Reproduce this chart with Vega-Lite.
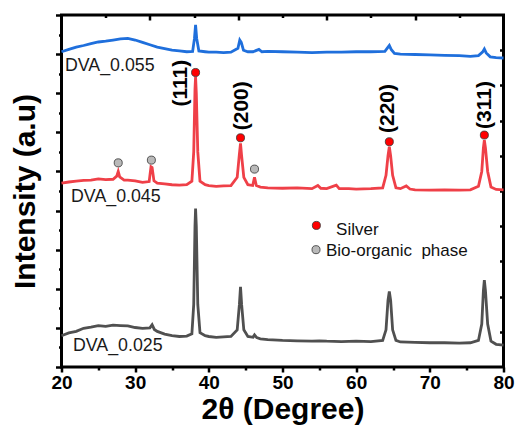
{
  "$schema": "https://vega.github.io/schema/vega-lite/v6.json",
  "width": 442,
  "height": 352,
  "autosize": "none",
  "padding": {"left": 61.5, "top": 15, "right": 12.5, "bottom": 60},
  "background": "white",
  "config": {
    "font": "Liberation Sans",
    "view": {"stroke": "black", "strokeWidth": 3},
    "axis": {"grid": false, "domain": false, "tickColor": "black", "tickWidth": 2.5, "labelColor": "black", "titleColor": "black"}
  },
  "datasets": {
    "xrd": [
      {"sample":"DVA_0.025","angle":20,"intensity":0.80},{"sample":"DVA_0.025","angle":21,"intensity":0.87},{"sample":"DVA_0.025","angle":22,"intensity":0.91},{"sample":"DVA_0.025","angle":23,"intensity":0.99},{"sample":"DVA_0.025","angle":24,"intensity":1.02},{"sample":"DVA_0.025","angle":25,"intensity":1.06},{"sample":"DVA_0.025","angle":26,"intensity":1.04},{"sample":"DVA_0.025","angle":27,"intensity":1.07},{"sample":"DVA_0.025","angle":28,"intensity":1.06},{"sample":"DVA_0.025","angle":29,"intensity":1.05},{"sample":"DVA_0.025","angle":30,"intensity":1.01},{"sample":"DVA_0.025","angle":31,"intensity":0.99},{"sample":"DVA_0.025","angle":32,"intensity":1.00},{"sample":"DVA_0.025","angle":32.3,"intensity":1.08},{"sample":"DVA_0.025","angle":32.6,"intensity":0.96},{"sample":"DVA_0.025","angle":33,"intensity":0.91},{"sample":"DVA_0.025","angle":34,"intensity":0.84},{"sample":"DVA_0.025","angle":35,"intensity":0.80},{"sample":"DVA_0.025","angle":36,"intensity":0.78},{"sample":"DVA_0.025","angle":37,"intensity":0.79},{"sample":"DVA_0.025","angle":37.7,"intensity":0.85},{"sample":"DVA_0.025","angle":37.95,"intensity":1.6},{"sample":"DVA_0.025","angle":38.12,"intensity":3.6},{"sample":"DVA_0.025","angle":38.2,"intensity":4.05},{"sample":"DVA_0.025","angle":38.3,"intensity":3.6},{"sample":"DVA_0.025","angle":38.5,"intensity":1.6},{"sample":"DVA_0.025","angle":38.8,"intensity":0.88},{"sample":"DVA_0.025","angle":39.5,"intensity":0.80},{"sample":"DVA_0.025","angle":40,"intensity":0.78},{"sample":"DVA_0.025","angle":41,"intensity":0.76},{"sample":"DVA_0.025","angle":42,"intensity":0.77},{"sample":"DVA_0.025","angle":43,"intensity":0.78},{"sample":"DVA_0.025","angle":43.85,"intensity":0.95},{"sample":"DVA_0.025","angle":44.15,"intensity":1.6},{"sample":"DVA_0.025","angle":44.3,"intensity":2.05},{"sample":"DVA_0.025","angle":44.45,"intensity":1.6},{"sample":"DVA_0.025","angle":44.75,"intensity":0.95},{"sample":"DVA_0.025","angle":45.3,"intensity":0.78},{"sample":"DVA_0.025","angle":46,"intensity":0.76},{"sample":"DVA_0.025","angle":46.2,"intensity":0.82},{"sample":"DVA_0.025","angle":46.5,"intensity":0.75},{"sample":"DVA_0.025","angle":47,"intensity":0.72},{"sample":"DVA_0.025","angle":48,"intensity":0.70},{"sample":"DVA_0.025","angle":50,"intensity":0.68},{"sample":"DVA_0.025","angle":52,"intensity":0.67},{"sample":"DVA_0.025","angle":54,"intensity":0.66},{"sample":"DVA_0.025","angle":55,"intensity":0.67},{"sample":"DVA_0.025","angle":56,"intensity":0.66},{"sample":"DVA_0.025","angle":58,"intensity":0.65},{"sample":"DVA_0.025","angle":60,"intensity":0.66},{"sample":"DVA_0.025","angle":62,"intensity":0.65},{"sample":"DVA_0.025","angle":63.6,"intensity":0.68},{"sample":"DVA_0.025","angle":64.05,"intensity":0.95},{"sample":"DVA_0.025","angle":64.32,"intensity":1.7},{"sample":"DVA_0.025","angle":64.5,"intensity":1.93},{"sample":"DVA_0.025","angle":64.68,"intensity":1.7},{"sample":"DVA_0.025","angle":64.95,"intensity":0.95},{"sample":"DVA_0.025","angle":65.4,"intensity":0.68},{"sample":"DVA_0.025","angle":66,"intensity":0.64},{"sample":"DVA_0.025","angle":68,"intensity":0.63},{"sample":"DVA_0.025","angle":70,"intensity":0.62},{"sample":"DVA_0.025","angle":72,"intensity":0.62},{"sample":"DVA_0.025","angle":74,"intensity":0.61},{"sample":"DVA_0.025","angle":75.5,"intensity":0.62},{"sample":"DVA_0.025","angle":76.6,"intensity":0.68},{"sample":"DVA_0.025","angle":77.05,"intensity":1.1},{"sample":"DVA_0.025","angle":77.27,"intensity":1.95},{"sample":"DVA_0.025","angle":77.4,"intensity":2.22},{"sample":"DVA_0.025","angle":77.55,"intensity":1.95},{"sample":"DVA_0.025","angle":77.85,"intensity":1.1},{"sample":"DVA_0.025","angle":78.3,"intensity":0.66},{"sample":"DVA_0.025","angle":79,"intensity":0.58},{"sample":"DVA_0.025","angle":80,"intensity":0.56},

      {"sample":"DVA_0.045","angle":20,"intensity":4.70},{"sample":"DVA_0.045","angle":21,"intensity":4.73},{"sample":"DVA_0.045","angle":22,"intensity":4.75},{"sample":"DVA_0.045","angle":23,"intensity":4.77},{"sample":"DVA_0.045","angle":24,"intensity":4.78},{"sample":"DVA_0.045","angle":25,"intensity":4.81},{"sample":"DVA_0.045","angle":26,"intensity":4.79},{"sample":"DVA_0.045","angle":27,"intensity":4.80},{"sample":"DVA_0.045","angle":27.5,"intensity":4.88},{"sample":"DVA_0.045","angle":27.7,"intensity":5.0},{"sample":"DVA_0.045","angle":27.9,"intensity":4.86},{"sample":"DVA_0.045","angle":28.5,"intensity":4.78},{"sample":"DVA_0.045","angle":29,"intensity":4.78},{"sample":"DVA_0.045","angle":30,"intensity":4.76},{"sample":"DVA_0.045","angle":31,"intensity":4.72},{"sample":"DVA_0.045","angle":31.9,"intensity":4.74},{"sample":"DVA_0.045","angle":32.15,"intensity":5.12},{"sample":"DVA_0.045","angle":32.3,"intensity":5.1},{"sample":"DVA_0.045","angle":32.55,"intensity":4.76},{"sample":"DVA_0.045","angle":33,"intensity":4.70},{"sample":"DVA_0.045","angle":34,"intensity":4.68},{"sample":"DVA_0.045","angle":35,"intensity":4.66},{"sample":"DVA_0.045","angle":36,"intensity":4.65},{"sample":"DVA_0.045","angle":37,"intensity":4.66},{"sample":"DVA_0.045","angle":37.7,"intensity":4.75},{"sample":"DVA_0.045","angle":37.95,"intensity":5.5},{"sample":"DVA_0.045","angle":38.12,"intensity":7.1},{"sample":"DVA_0.045","angle":38.2,"intensity":7.42},{"sample":"DVA_0.045","angle":38.3,"intensity":7.0},{"sample":"DVA_0.045","angle":38.5,"intensity":5.5},{"sample":"DVA_0.045","angle":38.8,"intensity":4.75},{"sample":"DVA_0.045","angle":39.5,"intensity":4.66},{"sample":"DVA_0.045","angle":40,"intensity":4.64},{"sample":"DVA_0.045","angle":41,"intensity":4.62},{"sample":"DVA_0.045","angle":42,"intensity":4.63},{"sample":"DVA_0.045","angle":43,"intensity":4.64},{"sample":"DVA_0.045","angle":43.85,"intensity":4.85},{"sample":"DVA_0.045","angle":44.15,"intensity":5.45},{"sample":"DVA_0.045","angle":44.3,"intensity":5.72},{"sample":"DVA_0.045","angle":44.45,"intensity":5.4},{"sample":"DVA_0.045","angle":44.75,"intensity":4.85},{"sample":"DVA_0.045","angle":45.3,"intensity":4.66},{"sample":"DVA_0.045","angle":45.95,"intensity":4.64},{"sample":"DVA_0.045","angle":46.2,"intensity":4.85},{"sample":"DVA_0.045","angle":46.45,"intensity":4.64},{"sample":"DVA_0.045","angle":47,"intensity":4.60},{"sample":"DVA_0.045","angle":48,"intensity":4.58},{"sample":"DVA_0.045","angle":50,"intensity":4.57},{"sample":"DVA_0.045","angle":52,"intensity":4.58},{"sample":"DVA_0.045","angle":54,"intensity":4.56},{"sample":"DVA_0.045","angle":54.8,"intensity":4.64},{"sample":"DVA_0.045","angle":55.2,"intensity":4.57},{"sample":"DVA_0.045","angle":56,"intensity":4.56},{"sample":"DVA_0.045","angle":57.3,"intensity":4.65},{"sample":"DVA_0.045","angle":57.7,"intensity":4.56},{"sample":"DVA_0.045","angle":59,"intensity":4.56},{"sample":"DVA_0.045","angle":60,"intensity":4.55},{"sample":"DVA_0.045","angle":62,"intensity":4.56},{"sample":"DVA_0.045","angle":63.6,"intensity":4.58},{"sample":"DVA_0.045","angle":64.05,"intensity":4.90},{"sample":"DVA_0.045","angle":64.32,"intensity":5.4},{"sample":"DVA_0.045","angle":64.5,"intensity":5.63},{"sample":"DVA_0.045","angle":64.68,"intensity":5.4},{"sample":"DVA_0.045","angle":64.95,"intensity":4.90},{"sample":"DVA_0.045","angle":65.4,"intensity":4.58},{"sample":"DVA_0.045","angle":66,"intensity":4.56},{"sample":"DVA_0.045","angle":66.8,"intensity":4.63},{"sample":"DVA_0.045","angle":67.3,"intensity":4.55},{"sample":"DVA_0.045","angle":68,"intensity":4.53},{"sample":"DVA_0.045","angle":70,"intensity":4.52},{"sample":"DVA_0.045","angle":72,"intensity":4.53},{"sample":"DVA_0.045","angle":74,"intensity":4.52},{"sample":"DVA_0.045","angle":75.5,"intensity":4.53},{"sample":"DVA_0.045","angle":76.6,"intensity":4.62},{"sample":"DVA_0.045","angle":77.05,"intensity":5.0},{"sample":"DVA_0.045","angle":77.27,"intensity":5.6},{"sample":"DVA_0.045","angle":77.4,"intensity":5.8},{"sample":"DVA_0.045","angle":77.55,"intensity":5.6},{"sample":"DVA_0.045","angle":77.85,"intensity":5.0},{"sample":"DVA_0.045","angle":78.3,"intensity":4.6},{"sample":"DVA_0.045","angle":79,"intensity":4.54},{"sample":"DVA_0.045","angle":80,"intensity":4.53},

      {"sample":"DVA_0.055","angle":20,"intensity":8.06},{"sample":"DVA_0.055","angle":21,"intensity":8.12},{"sample":"DVA_0.055","angle":22,"intensity":8.18},{"sample":"DVA_0.055","angle":23,"intensity":8.22},{"sample":"DVA_0.055","angle":24,"intensity":8.27},{"sample":"DVA_0.055","angle":25,"intensity":8.31},{"sample":"DVA_0.055","angle":26,"intensity":8.33},{"sample":"DVA_0.055","angle":27,"intensity":8.36},{"sample":"DVA_0.055","angle":28,"intensity":8.39},{"sample":"DVA_0.055","angle":29,"intensity":8.40},{"sample":"DVA_0.055","angle":30,"intensity":8.36},{"sample":"DVA_0.055","angle":31,"intensity":8.30},{"sample":"DVA_0.055","angle":32,"intensity":8.24},{"sample":"DVA_0.055","angle":33,"intensity":8.18},{"sample":"DVA_0.055","angle":34,"intensity":8.14},{"sample":"DVA_0.055","angle":35,"intensity":8.10},{"sample":"DVA_0.055","angle":36,"intensity":8.08},{"sample":"DVA_0.055","angle":37,"intensity":8.06},{"sample":"DVA_0.055","angle":37.8,"intensity":8.07},{"sample":"DVA_0.055","angle":38.05,"intensity":8.40},{"sample":"DVA_0.055","angle":38.2,"intensity":8.75},{"sample":"DVA_0.055","angle":38.35,"intensity":8.40},{"sample":"DVA_0.055","angle":38.65,"intensity":8.08},{"sample":"DVA_0.055","angle":39.5,"intensity":8.06},{"sample":"DVA_0.055","angle":40,"intensity":8.05},{"sample":"DVA_0.055","angle":41,"intensity":8.05},{"sample":"DVA_0.055","angle":42,"intensity":8.04},{"sample":"DVA_0.055","angle":43,"intensity":8.05},{"sample":"DVA_0.055","angle":43.95,"intensity":8.15},{"sample":"DVA_0.055","angle":44.2,"intensity":8.36},{"sample":"DVA_0.055","angle":44.4,"intensity":8.30},{"sample":"DVA_0.055","angle":44.7,"intensity":8.10},{"sample":"DVA_0.055","angle":45.3,"intensity":8.06},{"sample":"DVA_0.055","angle":46,"intensity":8.06},{"sample":"DVA_0.055","angle":46.8,"intensity":8.12},{"sample":"DVA_0.055","angle":47.2,"intensity":8.06},{"sample":"DVA_0.055","angle":48,"intensity":8.07},{"sample":"DVA_0.055","angle":50,"intensity":8.06},{"sample":"DVA_0.055","angle":52,"intensity":8.05},{"sample":"DVA_0.055","angle":54,"intensity":8.04},{"sample":"DVA_0.055","angle":56,"intensity":8.05},{"sample":"DVA_0.055","angle":58,"intensity":8.05},{"sample":"DVA_0.055","angle":60,"intensity":8.06},{"sample":"DVA_0.055","angle":62,"intensity":8.06},{"sample":"DVA_0.055","angle":63.9,"intensity":8.07},{"sample":"DVA_0.055","angle":64.25,"intensity":8.16},{"sample":"DVA_0.055","angle":64.5,"intensity":8.22},{"sample":"DVA_0.055","angle":64.75,"intensity":8.12},{"sample":"DVA_0.055","angle":65.2,"intensity":8.02},{"sample":"DVA_0.055","angle":66,"intensity":8.00},{"sample":"DVA_0.055","angle":68,"intensity":7.99},{"sample":"DVA_0.055","angle":70,"intensity":7.98},{"sample":"DVA_0.055","angle":72,"intensity":7.97},{"sample":"DVA_0.055","angle":74,"intensity":7.96},{"sample":"DVA_0.055","angle":75.5,"intensity":7.94},{"sample":"DVA_0.055","angle":76.6,"intensity":7.96},{"sample":"DVA_0.055","angle":77.15,"intensity":8.05},{"sample":"DVA_0.055","angle":77.4,"intensity":8.13},{"sample":"DVA_0.055","angle":77.65,"intensity":8.03},{"sample":"DVA_0.055","angle":78.2,"intensity":7.93},{"sample":"DVA_0.055","angle":79,"intensity":7.91},{"sample":"DVA_0.055","angle":80,"intensity":7.90}
    ],
    "markers": [
      {"angle":38.2,"intensity":7.53,"phase":"Silver"},
      {"angle":44.3,"intensity":5.86,"phase":"Silver"},
      {"angle":64.5,"intensity":5.76,"phase":"Silver"},
      {"angle":77.4,"intensity":5.93,"phase":"Silver"},
      {"angle":27.7,"intensity":5.22,"phase":"Bio-organic phase"},
      {"angle":32.2,"intensity":5.29,"phase":"Bio-organic phase"},
      {"angle":46.2,"intensity":5.06,"phase":"Bio-organic phase"},
      {"angle":54.6,"intensity":3.62,"phase":"Silver"},
      {"angle":54.55,"intensity":3.0,"phase":"Bio-organic phase"}
    ]
  },
  "resolve": {"axis": {"x": "independent", "y": "independent"}},
  "layer": [
    {
      "data": {"name": "xrd"},
      "mark": {"type": "line", "strokeWidth": 2.8, "interpolate": "linear"},
      "encoding": {
        "x": {"field": "angle", "type": "quantitative", "scale": {"domain": [20, 80], "nice": false, "zero": false},
          "axis": {"orient": "bottom", "values": [20, 30, 40, 50, 60, 70, 80], "format": "d", "labelFontSize": 19, "labelFontWeight": "bold", "labelFlush": false, "labelOverlap": false, "labelPadding": 1, "tickSize": 5, "title": "2θ (Degree)", "titleFontSize": 30, "titleFontWeight": "bold", "titlePadding": 2}},
        "y": {"field": "intensity", "type": "quantitative", "scale": {"domain": [0, 9], "nice": false, "zero": false},
          "axis": {"orient": "left", "values": [0, 1, 2, 3, 4, 5, 6, 7, 8, 9], "labels": false, "tickSize": 6, "title": "Intensity (a.u)", "titleFontSize": 30, "titleFontWeight": "bold", "titlePadding": 14}},
        "color": {"field": "sample", "type": "nominal", "scale": {"domain": ["DVA_0.025", "DVA_0.045", "DVA_0.055"], "range": ["#505050", "#ef4048", "#1f6fdc"]}, "legend": null}
      }
    },
    {
      "data": {"values": [{"angle": 20, "intensity": 0}]},
      "mark": {"type": "point", "opacity": 0},
      "encoding": {
        "x": {"field": "angle", "type": "quantitative", "axis": {"orient": "bottom", "values": [25, 35, 45, 55, 65, 75], "labels": false, "tickSize": 3, "title": null}},
        "y": {"field": "intensity", "type": "quantitative", "axis": {"orient": "left", "values": [0.5, 1.5, 2.5, 3.5, 4.5, 5.5, 6.5, 7.5, 8.5], "labels": false, "tickSize": 3, "title": null}}
      }
    },
    {
      "data": {"values": [{"angle": 20, "intensity": 0}]},
      "mark": {"type": "point", "opacity": 0},
      "encoding": {
        "x": {"field": "angle", "type": "quantitative", "axis": {"orient": "top", "values": [32, 44, 56, 68], "labels": false, "tickSize": -5, "title": null}},
        "y": {"field": "intensity", "type": "quantitative", "axis": {"orient": "right", "values": [0.9, 1.8, 2.7, 3.6, 4.5, 5.4, 6.3, 7.2, 8.1], "labels": false, "tickSize": -4, "title": null}}
      }
    },
    {
      "data": {"values": [{"angle": 20, "intensity": 0}]},
      "mark": {"type": "point", "opacity": 0},
      "encoding": {
        "x": {"field": "angle", "type": "quantitative", "axis": {"orient": "top", "values": [26, 38, 50, 62, 74], "labels": false, "tickSize": -2.5, "title": null}},
        "y": {"field": "intensity", "type": "quantitative", "axis": null}
      }
    },
    {
      "data": {"name": "markers"},
      "mark": {"type": "point", "shape": "circle", "filled": true, "size": 65, "stroke": "#333333", "strokeWidth": 0.8, "opacity": 1},
      "encoding": {
        "x": {"field": "angle", "type": "quantitative", "axis": null},
        "y": {"field": "intensity", "type": "quantitative", "axis": null},
        "fill": {"field": "phase", "type": "nominal", "scale": {"domain": ["Silver", "Bio-organic phase"], "range": ["#ff0000", "#b9b9b9"]}, "legend": null}
      }
    },
    {
      "data": {"values": [
        {"angle": 20.47, "intensity": 7.58, "label": "DVA_0.055"},
        {"angle": 21.29, "intensity": 4.21, "label": "DVA_0.045"},
        {"angle": 21.56, "intensity": 0.41, "label": "DVA_0.025"}
      ]},
      "mark": {"type": "text", "align": "left", "baseline": "alphabetic", "fontSize": 17.8, "color": "#1a1a1a"},
      "encoding": {
        "x": {"field": "angle", "type": "quantitative", "axis": null},
        "y": {"field": "intensity", "type": "quantitative", "axis": null},
        "text": {"field": "label"}
      }
    },
    {
      "data": {"values": [
        {"angle": 57.27, "intensity": 3.37, "label": "Silver"},
        {"angle": 55.9, "intensity": 2.83, "label": "Bio-organic\u00a0 phase"}
      ]},
      "mark": {"type": "text", "align": "left", "baseline": "alphabetic", "fontSize": 17, "color": "#111111"},
      "encoding": {
        "x": {"field": "angle", "type": "quantitative", "axis": null},
        "y": {"field": "intensity", "type": "quantitative", "axis": null},
        "text": {"field": "label"}
      }
    },
    {
      "data": {"values": [
        {"angle": 36.27, "intensity": 7.26, "label": "(111)"},
        {"angle": 44.55, "intensity": 6.68, "label": "(200)"},
        {"angle": 64.36, "intensity": 6.61, "label": "(220)"},
        {"angle": 77.45, "intensity": 6.70, "label": "(311)"}
      ]},
      "mark": {"type": "text", "align": "center", "baseline": "middle", "angle": 270, "fontSize": 21, "fontWeight": "bold", "color": "#000000"},
      "encoding": {
        "x": {"field": "angle", "type": "quantitative", "axis": null},
        "y": {"field": "intensity", "type": "quantitative", "axis": null},
        "text": {"field": "label"}
      }
    }
  ]
}
